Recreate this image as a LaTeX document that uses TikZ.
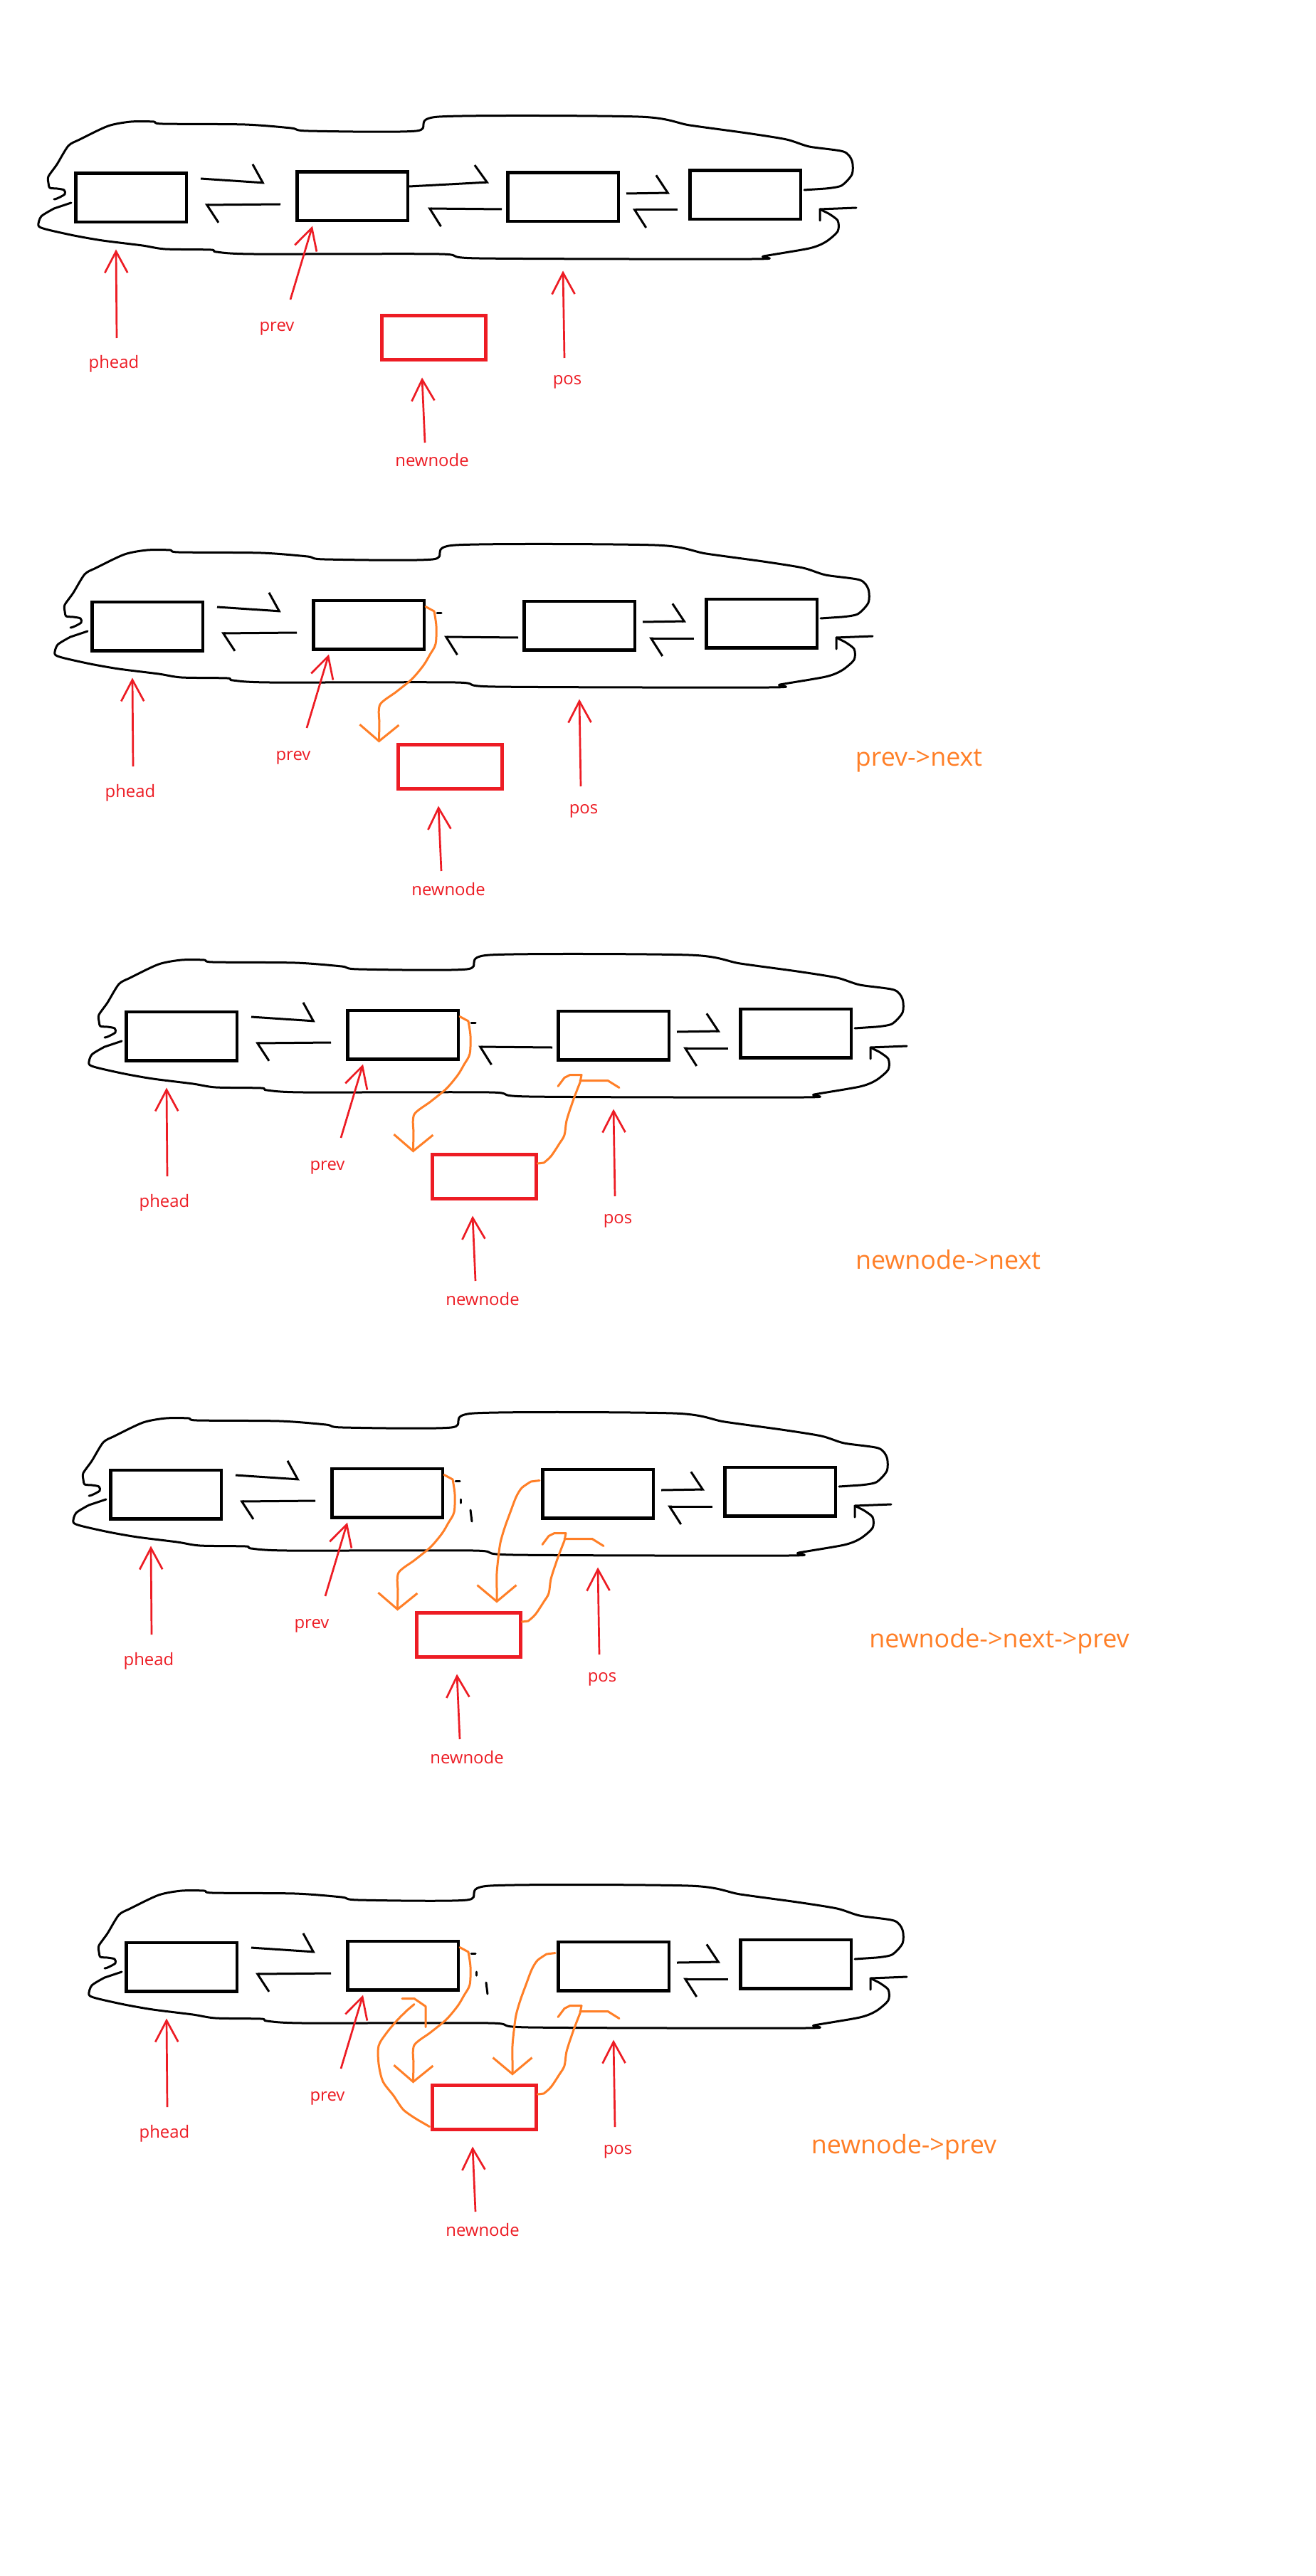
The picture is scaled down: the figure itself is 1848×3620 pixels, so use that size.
\documentclass[tikz,border=0pt]{standalone}
\usepackage{fontspec}
\setmainfont{Open Sans}
\usepackage{tikz}
\usetikzlibrary{arrows.meta}

\definecolor{paintred}{HTML}{ED1C24}
\definecolor{paintorange}{HTML}{FF7F27}

\begin{document}
\begin{tikzpicture}[
            x=0.1mm, y=-0.1mm,
            lnode/.style    ={rectangle, draw=black, line width=0.45mm,
                              minimum width=15.55mm, minimum height=6.85mm, inner sep=0pt},
            newbox/.style   ={rectangle, draw=paintred, line width=0.5mm,
                              minimum width=14.6mm, minimum height=6.2mm, inner sep=0pt},
            ptrlabel/.style ={text=paintred, font=\fontsize{6.8}{8}\selectfont,
                              inner sep=0pt, anchor=base},
            steplabel/.style={text=paintorange, font=\fontsize{10.2}{12}\selectfont,
                              inner sep=0pt, anchor=base},
            ptr/.style      ={draw=paintred, line width=0.27mm, -{Straight Barb[length=3mm, width=3.2mm]}},
            link/.style     ={line width=0.3mm, -{Straight Barb[harpoon, length=1.6mm, width=5mm]}},
            ring/.style     ={line width=0.3mm, line join=round, line cap=round},
            change/.style   ={draw=paintorange, line width=0.3mm, line join=round, line cap=round},
            vhead/.style    ={-{Straight Barb[length=2.3mm, width=5.5mm]}}
        ]
        \fill[white] (0,0) rectangle (1848,3620);
        \useasboundingbox (0,0) rectangle (1848,3620);

        \foreach \px/\py/\stage/\lx/\ly/\steptext in {0/0/1/0/0/{},
                 23/602/2/1268/474/{prev->next},
                 71/1178/3/1261/605/{newnode->next},
                 49/1822/4/1355/493/{newnode->next->prev},
                 71/2486/5/1199/540/{newnode->prev}}{
        \begin{scope}[shift={(\px,\py)}, name prefix=s\stage-]
        % the circular list
        \node[lnode]  (b1) at (184,278) {};
        \node[lnode]  (b2) at (495,276) {};
        \node[lnode]  (b3) at (791,277) {};
        \node[lnode]  (b4) at (1047,274) {};
        \node[newbox] (nn) at (609,475) {};

        \node[ptrlabel] (lphead) at (160,518) {phead};
        \node[ptrlabel] (lprev)  at (389,466) {prev};
        \node[ptrlabel] (lpos)   at (797,541) {pos};
        \node[ptrlabel] (lnew)   at (607,656) {newnode};

        \draw[ring] ([shift={(3,-7)}]b4.east) -- plot[smooth, tension=.45] coordinates {
            (1160,265) (1182,261) (1197,245) (1197,226) (1185,213) (1137,206) (1105,196)
            (1049,187) (969,176) (897,164) (617,164) (585,184) (433,184) (409,180) (344,175)
            (228,174) (216,171) (184,171) (152,177) (112,196) (96,205) (80,231) (68,248)
            (68,257) (70,264) (80,265) (90,267) (91,273) (80,279) (76,280)};
        \draw[ring] ([shift={(-4,7)}]b1.west) -- plot[smooth, tension=.45] coordinates {
            (76,293) (58,304) (54,317) (64,322) (104,331) (144,338) (200,345) (232,350)
            (296,351) (304,354) (356,357) (617,357) (673,363) (1057,364) (1073,360)
            (1137,349) (1160,340) (1177,325) (1177,310) (1164,300)} -- ([shift={(25,20)}]b4.east);
        \draw[ring] ([shift={(25,36)}]b4.east) -- ([shift={(25,20)}]b4.east) -- ++(51,-2);

        \draw[link] ([shift={(18,-27)}]b1.east) -- ([shift={(-43,-19)}]b2.west);
        \draw[link] ([shift={(-21,11)}]b2.west) -- ([shift={(24,10)}]b1.east);
        \ifnum\stage=1
          \draw[link] ([shift={(0,-14)}]b2.east) -- ([shift={(-24,-21)}]b3.west);
        \fi
        \ifnum\stage<4
          \draw[link] ([shift={(-6,17)}]b3.west) -- ([shift={(26,17)}]b2.east);
        \fi
        \draw[link] ([shift={(9,-5)}]b3.east) -- ([shift={(-26,-3)}]b4.west);
        \draw[link] ([shift={(-15,21)}]b4.west) -- ([shift={(18,18)}]b3.east);

        \ifnum\stage>1
          \draw[ring] ([shift={(16,-17)}]b2.east) -- ++(6,0);
        \fi
        \ifnum\stage>3
          \draw[ring] ([shift={(23,9)}]b2.east) -- ++(0,5);
          \draw[ring] ([shift={(37,24)}]b2.east) -- ++(2,16);
        \fi

        \draw[ptr] ([shift={(4,-43)}]lphead.base) -- ([shift={(-21,36)}]b1.south);
        \draw[ptr] ([shift={(19,-45)}]lprev.base) -- ([shift={(-56,5)}]b2.south);
        \draw[ptr] ([shift={(-4,-38)}]lpos.base)  -- ([shift={(0,67)}]b3.south);
        \draw[ptr] ([shift={(-10,-34)}]lnew.base) -- ([shift={(-16,22)}]nn.south);

        % the new links, one more per step
        \ifnum\stage>1
          \draw[change, vhead] ([shift={(0,11)}]b2.north east) -- plot[smooth, tension=.5] coordinates {
              (587,257) (590,278) (589,303) (581,318) (572,333) (556,352) (534,370) (511,388)
              (510,411)} -- ([shift={(-24,0)}]nn.north west);
          \node[steplabel] (cap) at (\lx,\ly) {\steptext};
        \fi
        \ifnum\stage>2
          \draw[change] ([shift={(0,-18)}]nn.east) -- plot[smooth, tension=.5] coordinates {
              (693,456) (703,447) (715,429) (722,417) (725,397) (732,375) (737,361) (744,343)}
              -- ([shift={(35,19)}]b3.south west);
          \draw[change] ([shift={(2,35)}]b3.south west) -- ++(9,-12) -- ++(8,-4) -- ++(16,0);
          \draw[change] ([shift={(33,27)}]b3.south west) -- ++(39,0) -- ++(16,10);
        \fi
        \ifnum\stage>3
          \draw[change, vhead] ([shift={(-2,18)}]b3.north west) -- plot[smooth, tension=.5] coordinates {
              (697,260) (684,269) (676,282) (668,303) (660,325) (654,346) (651,368) (649,389)
              (649,410)} -- ([shift={(40,-11)}]nn.north);
        \fi
        \ifnum\stage>4
          \draw[change] ([shift={(-1,-6)}]nn.south west) -- plot[smooth, tension=.5] coordinates {
              (516,493) (496,479) (482,459) (467,439) (461,414) (461,389) (472,371) (487,353)
              (501,339)} -- ([shift={(16,18)}]b2.south);
          \draw[change] ([shift={(-1,10)}]b2.south) -- ++(17,0) -- ++(16,11) -- ++(0,29);
        \fi
        \end{scope}
        }
        \end{tikzpicture}
\end{document}
